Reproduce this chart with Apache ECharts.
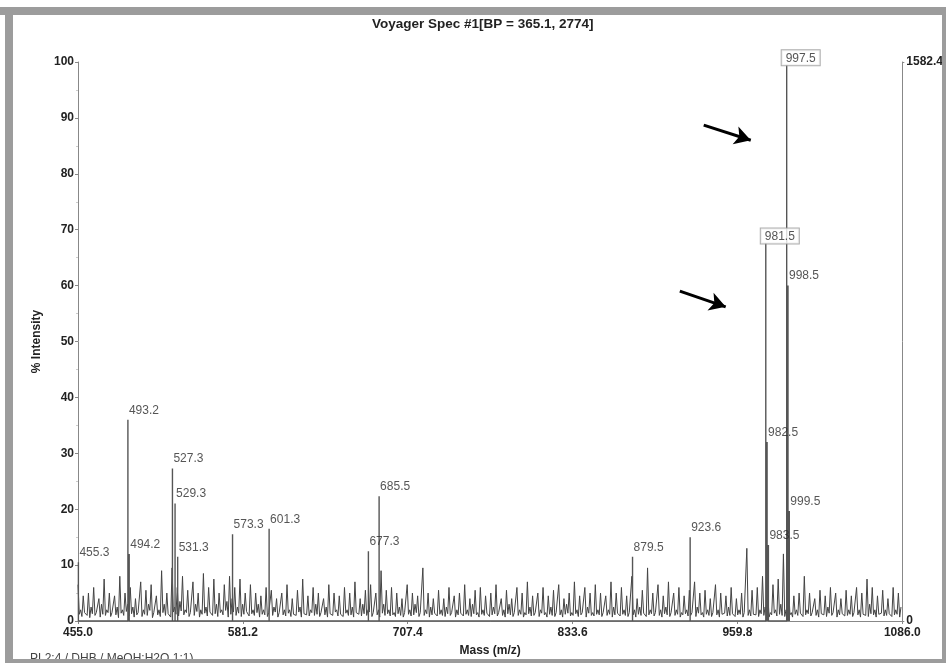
<!DOCTYPE html>
<html>
<head>
<meta charset="utf-8">
<script src="https://cdn.jsdelivr.net/npm/echarts@6/dist/echarts.min.js"></script>
<style>
html,body{margin:0;padding:0;background:#fff;}
#chart{width:946px;height:663px;}
</style>
</head>
<body>
<div id="chart"></div>
<script>
// ---- Data ----
const titleText = 'Voyager Spec #1[BP = 365.1, 2774]';
const xTicks = [455.0, 581.2, 707.4, 833.6, 959.8, 1086.0];
const absMax = 1582.4;

// baseline noise
// evenNoise: m/z 455, 457, 459 ... ; oddNoise: m/z 456, 458, 460 ...
const evenStart = 455;
const oddStart = 456;
const noiseStep = 2;
const evenNoise = [
  6.5,2,4.5,1.5,5,2.5,6,1.5,4,3,7.5,2,5,1.5,4.5,2.5,8,2,5,3,
  6,2.5,4,1.5,7,2,5.5,3,6.5,1.5,4.5,2,9,3,5,1.5,9.5,2.5,6,3.5,
  8,2,5.5,1.5,7,3,5,2,8.5,2.5,6,1.5,7.5,3,5,2,6.5,3.5,8,4,
  6,2.5,7.5,3,5,1.5,6.5,2,5,3,4.5,2,6,1.5,5.5,2.5,4,1.5,5,2,
  6.5,2,4,1.5,5.5,2.5,7.5,1.5,4.5,2,6,3,5,1.5,4,2.5,6.5,1.5,5,2,
  4.5,1.5,6,2,5,2.5,7,1.5,4,3,5.5,2,6.5,1.5,5,2,9,3,5.5,2,
  6,1.5,5,2.5,4,1.5,6.5,2,5,3,4.5,1.5,9.5,2,5,2.5,4,1.5,5.5,2,
  4,2.5,6,1.5,4.5,2,5,1.5,6.5,2,4,3,5.5,1.5,6,2,4.5,1.5,5,2.5,
  6.5,1.5,4,2,5.5,3,4,1.5,6,2,5,1.5,7,2.5,4.5,1.5,5,2,6,1.5,
  4.5,2.5,5.5,1.5,6.5,2,4,3,5,1.5,7,2,4.5,1.5,6,2.5,5,1.5,6.5,2,
  5,1.5,4.5,2,7,2.5,5,1.5,6,2,4.5,1.5,8,2,4,2.5,5.5,1.5,9.5,2,
  5,1.5,6.5,2,4.5,2.5,7,1.5,5,2,6,1.5,4.5,2,5.5,1.5,7,2.5,5,1.5,
  5.5,2,4,1.5,6.5,2,5,1.5,4.5,2.5,6,1.5,4,2,5,1.5,13,2,5.5,1.5,
  6,2,8,2.5,5,1.5,6.5,2,7.5,3,12,2,6,1.5,4.5,2,5,1.5,8,2,
  5,1.5,4,2,5.5,1.5,4.5,2.5,6,1.5,5,2,4,1.5,5.5,2,4.5,1.5,6,2,
  5,1.5,7.5,3,6,2,4.5,1.5,5.5,2,4,1.5,6,2,5,2.5
];
const oddNoise = [
  1.2,0.8,1.5,1,0.6,1.3,1,1.8,0.7,1.2,1,1.5,0.8,1.3,1.1,0.6,1.4,1,1.7,0.9,
  1.3,0.7,1.1,1.6,0.8,1.2,1,1.9,0.6,1.4,1.1,0.8,1.5,1,1.3,0.7,1.6,1.2,0.9,1.8,
  1.1,1.5,0.8,1.3,1,1.7,0.7,1.2,1.4,0.9,1.6,1,1.3,0.8,1.5,1.1,1.9,0.7,1.2,1.6,
  1,1.4,0.8,1.2,1.7,0.9,1.3,1,1.5,0.7,1.2,1.1,0.8,1.4,1,1.6,0.7,1.3,1.1,0.9,
  1.4,0.8,1.2,1,1.6,0.7,1.3,1.1,0.9,1.5,1,1.2,0.8,1.4,1.1,0.7,1.3,1,1.6,0.9,
  1.2,0.8,1.4,1,1.1,0.7,1.5,1.2,0.9,1.3,1,1.6,0.8,1.2,1.1,0.7,1.4,1,1.3,0.9,
  1.1,0.8,1.3,1,0.7,1.4,1.2,0.9,1.1,1.5,0.8,1.2,1,1.3,0.7,1.1,1.4,0.9,1.2,1,
  0.8,1.3,1,1.2,0.7,1.1,1.4,0.9,1.2,1,0.8,1.3,1.1,0.7,1.2,1,1.4,0.8,1.1,1.3,
  0.9,1.2,1,0.7,1.3,1.1,0.8,1.4,1,1.2,0.7,1.1,1.3,0.9,1,1.2,0.8,1.4,1.1,0.7,
  1.2,1,0.8,1.3,1.1,0.7,1.2,1.4,0.9,1,1.3,0.8,1.1,1.2,0.7,1.4,1,0.9,1.2,1.1,
  0.8,1.3,1,1.2,0.7,1.1,1.4,0.9,1.2,1,0.8,1.3,1.1,0.7,1.2,1,1.4,0.8,1.1,1.3,
  0.9,1.2,1,0.7,1.3,1.1,0.8,1.4,1,1.2,0.7,1.1,1.3,0.9,1,1.2,0.8,1.4,1.1,0.7,
  1.2,1,0.8,1.3,1.1,0.7,1.2,1.4,0.9,1,1.3,0.8,1.1,1.2,0.7,1.4,1,0.9,1.2,1.1,
  0.8,1.3,1,1.2,0.7,1.1,1.4,0.9,1.2,1,0.8,1.3,1.1,0.7,1.2,1,1.4,0.8,1.1,1.3,
  0.9,1.2,1,0.7,1.3,1.1,0.8,1.4,1,1.2,0.7,1.1,1.3,0.9,1,1.2,0.8,1.4,1.1,0.7,
  1.2,1,0.8,1.3,1.1,0.7,1.2,1.4,0.9,1,1.3,0.8,1.1,1.2,0.7
];

// labelled peaks
const peakMz =        [455.3, 493.2, 494.2, 527.3, 529.3, 531.3, 573.3, 601.3, 677.3, 685.5, 879.5, 923.6, 981.5, 982.5, 983.5, 997.5, 998.5, 999.5];
const peakIntensity = [10.5,  36,    12,    27.3,  21,    11.5,  15.5,  16.5,  12.5,  22.3,  11.5,  15,    67.6,  32,    13.6,  99.5,  60,    19.7];
const boxedPeaks = [981.5, 997.5];

// annotation arrows [startMz, startInt, endMz, endInt]
const arrows = [
  [934, 88.7, 970, 86.0],
  [915.7, 59.0, 950.8, 56.2]
];

// ---- Build series data ----
const noiseData = evenNoise.map((v, i) => [evenStart + i * noiseStep, v])
  .concat(oddNoise.map((v, i) => [oddStart + i * noiseStep, v]))
  .sort((a, b) => a[0] - b[0]);
const stickData = [];
peakMz.forEach((m, i) => { stickData.push([m, 0], [m, peakIntensity[i]], [m, 0]); });
const labelData = peakMz.map((m, i) => {
  const item = { value: [m, peakIntensity[i]], name: m.toFixed(1) };
  if (boxedPeaks.indexOf(m) >= 0) {
    item.label = {
      distance: 0, offset: [-5, 1], borderColor: '#999', borderWidth: 1,
      backgroundColor: '#fff', padding: [2, 4, 1, 4]
    };
  }
  return item;
});

const chart = echarts.init(document.getElementById('chart'), null, { renderer: 'canvas' });
const axisTxt = { color: '#222', fontFamily: 'Liberation Sans, Arial, sans-serif', fontWeight: 'bold', fontSize: 12 };

chart.setOption({
  animation: false,
  backgroundColor: '#fff',
  title: {
    text: titleText, left: 367, top: 12,
    textStyle: { fontFamily: 'Liberation Sans Narrow, Arial Narrow, sans-serif', fontWeight: 'bold', fontSize: 13.5, color: '#222' }
  },
  grid: { left: 78, right: 41, top: 62, bottom: 42 },
  xAxis: {
    type: 'value', min: xTicks[0], max: xTicks[xTicks.length - 1],
    name: 'Mass (m/z)', nameLocation: 'middle', nameGap: 24,
    nameTextStyle: axisTxt,
    axisLine: { lineStyle: { color: '#888', width: 1 } },
    axisTick: { show: true, length: 3, customValues: xTicks, lineStyle: { color: '#888' } },
    axisLabel: Object.assign({ customValues: xTicks, margin: 6, formatter: v => v.toFixed(1) }, axisTxt),
    splitLine: { show: false }
  },
  yAxis: [{
    type: 'value', min: 0, max: 100, interval: 10,
    name: '% Intensity', nameLocation: 'middle', nameGap: 32, nameRotate: 90,
    nameTextStyle: axisTxt,
    axisLine: { show: true, lineStyle: { color: '#888', width: 1 } },
    axisTick: { show: true, length: 3, lineStyle: { color: '#888' } },
    minorTick: { show: true, splitNumber: 2, length: 2, lineStyle: { color: '#ccc' } },
    axisLabel: Object.assign({ margin: 4, showMinLabel: true }, axisTxt),
    splitLine: { show: false }
  }, {
    type: 'value', min: 0, max: absMax, interval: absMax, position: 'right',
    axisLine: { show: true, lineStyle: { color: '#888', width: 1 } },
    axisTick: { show: true, length: 2, lineStyle: { color: '#888' } },
    axisLabel: Object.assign({ margin: 4, showMaxLabel: true, showMinLabel: true,
      formatter: v => v === 0 ? '0' : v.toFixed(1) }, axisTxt),
    splitLine: { show: false }
  }],
  series: [{
    type: 'line', name: 'noise', data: noiseData, symbol: 'none', silent: true,
    lineStyle: { color: '#444', width: 1 }, z: 2
  }, {
    type: 'line', name: 'peaks', data: stickData, symbol: 'none', silent: true,
    lineStyle: { color: '#555', width: 1.4 }, z: 3,
    markLine: {
      silent: true, symbol: ['none', 'arrow'], symbolSize: [14, 16],
      label: { show: false },
      lineStyle: { color: '#000', width: 3, type: 'solid' },
      data: arrows.map(a => [{ coord: [a[0], a[1]] }, { coord: [a[2], a[3]] }])
    }
  }, {
    type: 'scatter', name: 'labels', data: labelData, symbolSize: 1, silent: true,
    itemStyle: { color: 'rgba(0,0,0,0)' }, z: 4,
    label: {
      show: true, position: 'top', distance: 3, align: 'left', offset: [1, 0],
      formatter: p => p.name, color: '#2a2a2a', fontSize: 12,
      fontFamily: 'Liberation Sans, Arial, sans-serif'
    }
  }],
  graphic: [
    { type: 'text', left: 30, top: 653, z: 10,
      style: { text: 'PL2:4 / DHB / MeOH:H2O 1:1)', fill: '#444', font: '12px "Liberation Sans", Arial, sans-serif' } },
    { type: 'rect', shape: { x: 0, y: 7, width: 946, height: 8 }, style: { fill: '#9c9c9c' }, z: 20 },
    { type: 'rect', shape: { x: 5, y: 7, width: 8, height: 656 }, style: { fill: '#9c9c9c' }, z: 20 },
    { type: 'rect', shape: { x: 942, y: 7, width: 4, height: 656 }, style: { fill: '#9c9c9c' }, z: 20 },
    { type: 'rect', shape: { x: 5, y: 659, width: 941, height: 4 }, style: { fill: '#9c9c9c' }, z: 20 }
  ]
});
</script>
</body>
</html>
